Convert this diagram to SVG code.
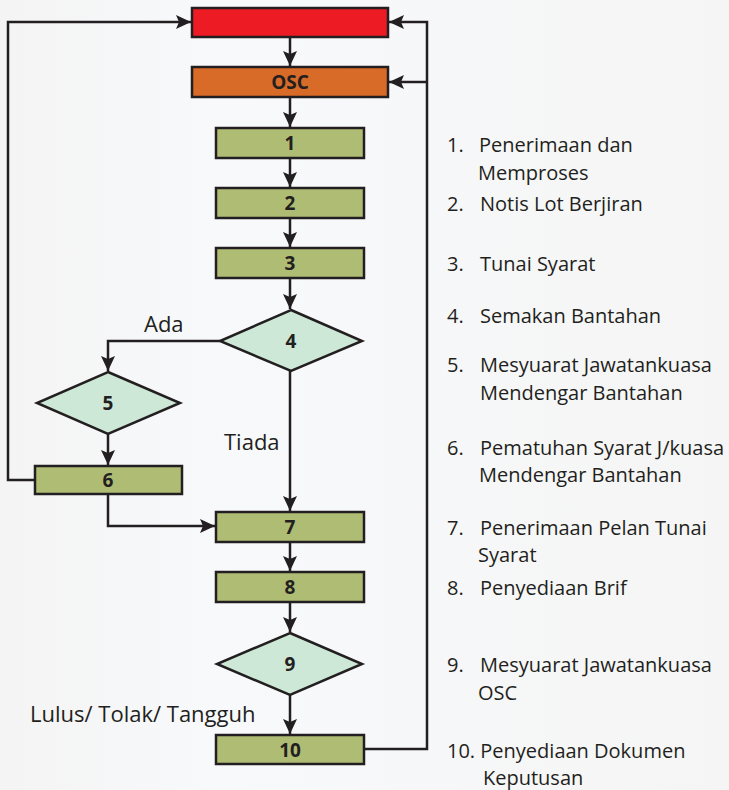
<svg xmlns="http://www.w3.org/2000/svg" width="729" height="790" viewBox="0 0 729 790">
<defs>
<marker id="ah" markerUnits="userSpaceOnUse" markerWidth="16" markerHeight="14" refX="15" refY="7" orient="auto">
<path d="M0,0 L15,7 L0,14 L3,7 z" fill="#231f20"/>
</marker>
<linearGradient id="bg" x1="0" y1="0" x2="1" y2="0">
<stop offset="0" stop-color="#f4f4f4"/>
<stop offset="0.3" stop-color="#f8f9fb"/>
<stop offset="1" stop-color="#f5f5f5"/>
</linearGradient>
</defs>
<style>
.box{stroke:#231f20;stroke-width:2.5}
.g{fill:#afbd74}
.d{fill:#cde8d7}
.lbl{font-family:"Open Sans","DejaVu Sans",sans-serif;font-weight:bold;font-size:19px;fill:#231f20;text-anchor:middle}
.conn path{fill:none;stroke:#231f20;stroke-width:2.5}
.t{font-family:"Open Sans","Liberation Sans",sans-serif;font-size:20px;fill:#231f20}
.t2{font-family:"Open Sans","Liberation Sans",sans-serif;font-size:22px;fill:#231f20}
</style>
<rect width="729" height="790" fill="url(#bg)"/>
<g class="conn">
<path d="M290,37 V66" marker-end="url(#ah)"/>
<path d="M290,97 V127" marker-end="url(#ah)"/>
<path d="M290,158 V187" marker-end="url(#ah)"/>
<path d="M290,218 V247" marker-end="url(#ah)"/>
<path d="M290,278 V309" marker-end="url(#ah)"/>
<path d="M220,341 H108 V371" marker-end="url(#ah)"/>
<path d="M108,434 V465" marker-end="url(#ah)"/>
<path d="M35,480 H8 V22 H191" marker-end="url(#ah)"/>
<path d="M108,494 V526 H215" marker-end="url(#ah)"/>
<path d="M290,371 V511" marker-end="url(#ah)"/>
<path d="M290,542 V571" marker-end="url(#ah)"/>
<path d="M290,602 V632" marker-end="url(#ah)"/>
<path d="M290,695 V734" marker-end="url(#ah)"/>
<path d="M364,749 H427 V22 H389" marker-end="url(#ah)"/>
<path d="M427,82 H389" marker-end="url(#ah)"/>
</g>
<g id="start"><rect class="box" x="192" y="8" width="196" height="29" fill="#ed1c24"/></g>
<g id="osc"><rect class="box" x="192" y="67" width="196" height="30" fill="#d76b27"/><text class="lbl" x="290" y="89">OSC</text></g>
<g id="n1"><rect class="box g" x="216" y="128" width="148" height="30"/><text class="lbl" x="290" y="150">1</text></g>
<g id="n2"><rect class="box g" x="216" y="188" width="148" height="30"/><text class="lbl" x="290" y="210">2</text></g>
<g id="n3"><rect class="box g" x="216" y="248" width="148" height="30"/><text class="lbl" x="290" y="270">3</text></g>
<g id="n4"><polygon class="box d" points="291,310 362,341 291,371 220,341"/><text class="lbl" x="291" y="348">4</text></g>
<g id="n5"><polygon class="box d" points="108,372 180,403 108,434 37,403"/><text class="lbl" x="108" y="410">5</text></g>
<g id="n6"><rect class="box g" x="35" y="466" width="147" height="28"/><text class="lbl" x="108" y="487">6</text></g>
<g id="n7"><rect class="box g" x="216" y="512" width="148" height="30"/><text class="lbl" x="290" y="534">7</text></g>
<g id="n8"><rect class="box g" x="216" y="572" width="148" height="30"/><text class="lbl" x="290" y="594">8</text></g>
<g id="n9"><polygon class="box d" points="290,633 362,664 290,695 217,664"/><text class="lbl" x="290" y="671">9</text></g>
<g id="n10"><rect class="box g" x="216" y="735" width="148" height="29"/><text class="lbl" x="290" y="757">10</text></g>
<g id="labels" class="t2">
<text x="144" y="332">Ada</text>
<text x="224" y="450">Tiada</text>
<text x="30" y="722">Lulus/ Tolak/ Tangguh</text>
</g>
<g id="legend" class="t">
<text x="447" y="152">1.</text><text x="479" y="152">Penerimaan dan</text>
<text x="478" y="180">Memproses</text>
<text x="447" y="211">2.</text><text x="480" y="211">Notis Lot Berjiran</text>
<text x="447" y="271">3.</text><text x="480" y="271">Tunai Syarat</text>
<text x="447" y="323">4.</text><text x="480" y="323">Semakan Bantahan</text>
<text x="447" y="372">5.</text><text x="480" y="372">Mesyuarat Jawatankuasa</text>
<text x="480" y="400">Mendengar Bantahan</text>
<text x="447" y="455">6.</text><text x="480" y="455">Pematuhan Syarat J/kuasa</text>
<text x="479" y="482">Mendengar Bantahan</text>
<text x="447" y="535">7.</text><text x="480" y="535">Penerimaan Pelan Tunai</text>
<text x="478" y="562">Syarat</text>
<text x="447" y="595">8.</text><text x="480" y="595">Penyediaan Brif</text>
<text x="447" y="672">9.</text><text x="480" y="672">Mesyuarat Jawatankuasa</text>
<text x="478" y="700">OSC</text>
<text x="447" y="758">10. Penyediaan Dokumen</text>
<text x="483" y="785">Keputusan</text>
</g>
</svg>
